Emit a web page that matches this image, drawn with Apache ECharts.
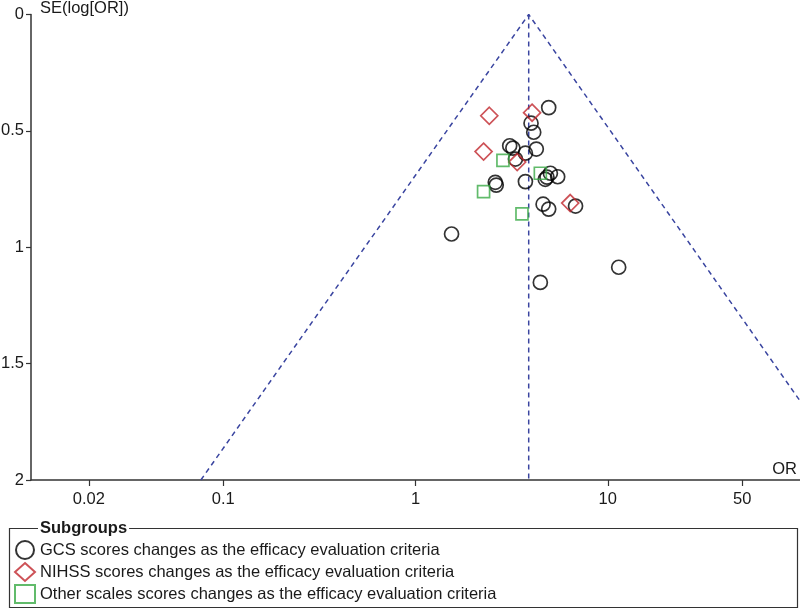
<!DOCTYPE html>
<html>
<head>
<meta charset="utf-8">
<script src="https://cdn.jsdelivr.net/npm/echarts@6/dist/echarts.min.js"></script>
<style>html,body{margin:0;padding:0;background:#fff}#c{width:800px;height:610px}</style>
</head>
<body>
<div id="c"></div>
<script>
// Data (OR, SE(log[OR]))
const gcsOR = [4.93, 3.99, 4.12, 3.09, 3.21, 3.73, 4.25, 3.31, 3.73, 2.60, 2.63, 5.03, 4.83, 4.73, 5.49, 4.61, 4.93, 6.80, 1.54, 4.46, 11.4];
const gcsSE = [0.400, 0.467, 0.506, 0.564, 0.574, 0.596, 0.578, 0.621, 0.718, 0.721, 0.733, 0.682, 0.699, 0.708, 0.697, 0.815, 0.836, 0.823, 0.943, 1.151, 1.086];
const nihssOR = [2.42, 4.04, 2.26, 3.38, 6.38];
const nihssSE = [0.435, 0.422, 0.589, 0.634, 0.810];
const otherOR = [2.85, 4.46, 2.26, 3.58];
const otherSE = [0.627, 0.682, 0.761, 0.857];
// Funnel (pseudo 95% CI) and pooled estimate
const funnelOR = [0.0765, 3.88, 100];
const funnelSE = [2, 0, 1.66];
const pooledOR = [3.88, 3.88];
const pooledSE = [0, 2];
// Axis ticks
const xTicks = [0.02, 0.1, 1, 10, 50];
const yTicks = [0, 0.5, 1, 1.5, 2];
const seriesNames = [
  'GCS scores changes as the efficacy evaluation criteria',
  'NIHSS scores changes as the efficacy evaluation criteria',
  'Other scales scores changes as the efficacy evaluation criteria'
];

const zip = (a, b) => a.map((v, i) => [v, b[i]]);
const FONT = 'Liberation Sans, Arial, sans-serif';
const FS = 16.5;
const TXT = '#1a1a1a';
const dashColor = '#3a45a0';

const chart = echarts.init(document.getElementById('c'), null, {renderer: 'canvas'});
chart.setOption({
  animation: false,
  backgroundColor: '#fff',
  textStyle: {fontFamily: FONT},
  grid: {left: 31, right: 0, top: 14.5, bottom: 130, containLabel: false, outerBoundsMode: 'none'},
  xAxis: {
    type: 'log', logBase: 10, min: 0.01, max: 100, position: 'bottom',
    name: 'OR', nameLocation: 'end', nameGap: 0,
    nameTextStyle: {fontSize: FS, color: TXT, align: 'right', verticalAlign: 'bottom', padding: [0, 3, 2, 0], fontFamily: FONT},
    axisLine: {onZero: false, lineStyle: {color: '#333', width: 1.5}},
    axisTick: {show: true, length: 6, lineStyle: {color: '#333', width: 1.2}, customValues: xTicks},
    axisLabel: {fontSize: FS, color: TXT, margin: 11, fontFamily: FONT, customValues: xTicks,
      formatter: v => String(+(+v).toPrecision(6))},
    splitLine: {show: false}, minorTick: {show: false}
  },
  yAxis: {
    type: 'value', inverse: true, min: 0, max: 2, interval: 0.5,
    name: 'SE(log[OR])', nameLocation: 'start', nameGap: 6,
    nameTextStyle: {fontSize: FS, color: TXT, align: 'left', verticalAlign: 'middle', padding: [0, 0, 0, 9], fontFamily: FONT},
    axisLine: {show: true, onZero: false, lineStyle: {color: '#333', width: 1.5}},
    axisTick: {show: true, length: 5, lineStyle: {color: '#333', width: 1.2}, customValues: yTicks},
    axisLabel: {fontSize: FS, color: TXT, margin: 7, fontFamily: FONT, customValues: yTicks},
    splitLine: {show: false}
  },
  legend: {
    orient: 'vertical', left: 14, top: 540, padding: 0,
    itemWidth: 20, itemHeight: 18, itemGap: 2,
    textStyle: {fontSize: FS, color: TXT, fontFamily: FONT},
    data: seriesNames
  },
  series: [
    {type: 'line', data: zip(funnelOR, funnelSE), symbol: 'none', silent: true,
      lineStyle: {color: dashColor, width: 1.5, type: [5, 4]}, z: 1},
    {type: 'line', data: zip(pooledOR, pooledSE), symbol: 'none', silent: true,
      lineStyle: {color: dashColor, width: 1.5, type: [5, 4]}, z: 1},
    {type: 'scatter', name: seriesNames[0], data: zip(gcsOR, gcsSE), symbol: 'circle', symbolSize: 14,
      itemStyle: {color: 'rgba(0,0,0,0)', borderColor: '#000', borderWidth: 1.7}, z: 3},
    {type: 'scatter', name: seriesNames[1], data: zip(nihssOR, nihssSE), symbol: 'diamond', symbolSize: 17,
      itemStyle: {color: 'rgba(0,0,0,0)', borderColor: '#c1272d', borderWidth: 1.7}, z: 4},
    {type: 'scatter', name: seriesNames[2], data: zip(otherOR, otherSE), symbol: 'rect', symbolSize: 12,
      itemStyle: {color: 'rgba(0,0,0,0)', borderColor: '#3aaa46', borderWidth: 1.7}, z: 4}
  ],
  graphic: [
    {type: 'rect', shape: {x: 9.5, y: 528.5, width: 788, height: 79}, style: {fill: 'none', stroke: '#333', lineWidth: 1.2}, z: 0},
    {type: 'text', x: 38, y: 528, style: {text: 'Subgroups', fontSize: FS, fontWeight: 'bold', fill: TXT, fontFamily: FONT,
      verticalAlign: 'middle', backgroundColor: '#fff', padding: [0, 2]}, z: 2}
  ]
});
</script>
</body>
</html>
